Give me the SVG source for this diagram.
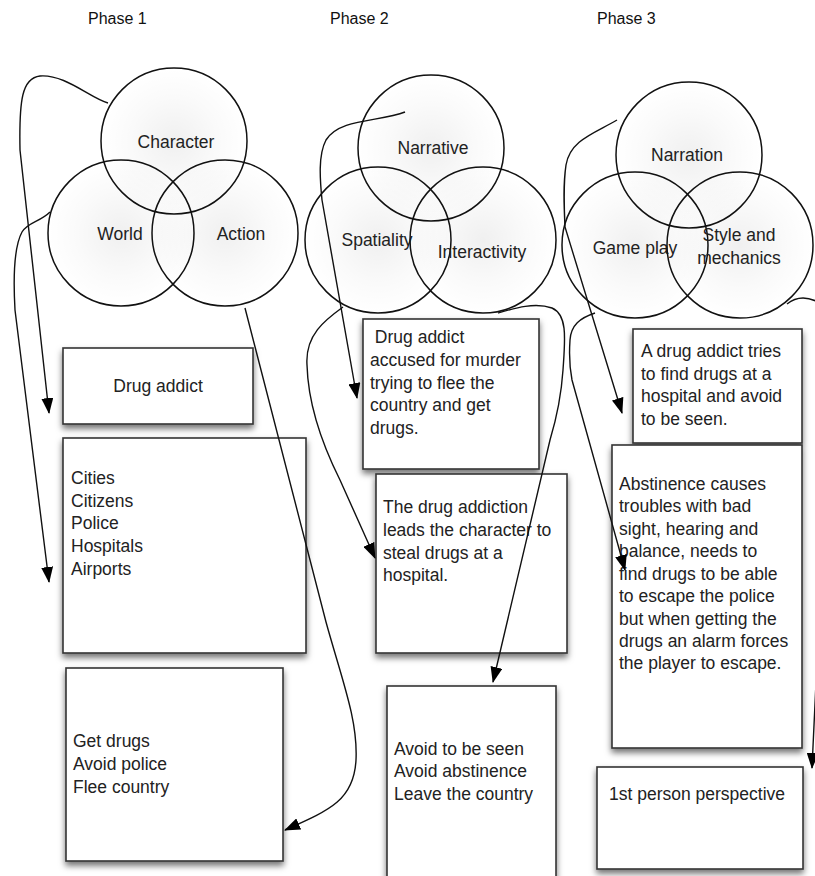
<svg xmlns="http://www.w3.org/2000/svg" width="815" height="876" viewBox="0 0 815 876">
<style>
  .title { font-family: "Liberation Sans", Arial, sans-serif; font-size: 16px; fill: #111; }
  .lbl { font-family: "Liberation Sans", Arial, sans-serif; font-size: 17.5px; fill: #222; }
  .mid { text-anchor: middle; }
  .circ { fill: url(#cg); stroke: #111; stroke-width: 1.5; }
  .box { fill: #fff; stroke: #333; stroke-width: 1.6; filter: url(#sh); }
  .conn { fill: none; stroke: #111; stroke-width: 1.4; marker-end: url(#ah); }
</style>
<defs>
  <radialGradient id="cg" cx="0.5" cy="0.5" r="0.5">
    <stop offset="0" stop-color="#000" stop-opacity="0.06"/>
    <stop offset="0.6" stop-color="#000" stop-opacity="0.02"/>
    <stop offset="1" stop-color="#000" stop-opacity="0"/>
  </radialGradient>
  <filter id="sh" x="-20%" y="-20%" width="140%" height="140%">
    <feDropShadow dx="0" dy="4" stdDeviation="3" flood-color="#000" flood-opacity="0.55"/>
  </filter>
  <marker id="ah" markerUnits="userSpaceOnUse" markerWidth="16" markerHeight="12" viewBox="0 0 16 12" refX="15" refY="6" orient="auto">
    <path d="M0,0 L16,6 L0,12 Z" fill="#000"/>
  </marker>
</defs>

<rect x="0" y="0" width="815" height="876" fill="#fff"/>

<g id="titles">
  <text class="title" x="88" y="24">Phase 1</text>
  <text class="title" x="330" y="24">Phase 2</text>
  <text class="title" x="597" y="24">Phase 3</text>
</g>

<!-- Phase 1 circles -->
<g id="character"><circle class="circ" cx="174" cy="141" r="73"/><text class="lbl mid" x="176" y="148">Character</text></g>
<g id="world"><circle class="circ" cx="121" cy="233" r="73"/><text class="lbl mid" x="120" y="240">World</text></g>
<g id="action"><circle class="circ" cx="225" cy="233" r="73"/><text class="lbl mid" x="241" y="240">Action</text></g>

<!-- Phase 2 circles -->
<g id="narrative"><circle class="circ" cx="431" cy="148" r="73"/><text class="lbl mid" x="433" y="154">Narrative</text></g>
<g id="spatiality"><circle class="circ" cx="378" cy="240" r="73"/><text class="lbl mid" x="377" y="246">Spatiality</text></g>
<g id="interactivity"><circle class="circ" cx="483" cy="240" r="73"/><text class="lbl mid" x="482" y="258">Interactivity</text></g>

<!-- Phase 3 circles -->
<g id="narration"><circle class="circ" cx="689" cy="155" r="73"/><text class="lbl mid" x="687" y="161">Narration</text></g>
<g id="gameplay"><circle class="circ" cx="635" cy="245" r="73"/><text class="lbl mid" x="635" y="254">Game play</text></g>
<g id="style"><circle class="circ" cx="740" cy="245" r="73"/><text class="lbl mid" x="739" y="241">Style and</text><text class="lbl mid" x="739" y="264">mechanics</text></g>

<!-- Phase 1 boxes -->
<g id="p1-drug"><rect class="box" x="63" y="348" width="190" height="76"/><text class="lbl mid" x="158" y="392">Drug addict</text></g>
<g id="p1-world"><rect class="box" x="63" y="438" width="243" height="215"/>
  <text class="lbl" x="71" y="484">Cities</text>
  <text class="lbl" x="71" y="507">Citizens</text>
  <text class="lbl" x="71" y="529">Police</text>
  <text class="lbl" x="71" y="552">Hospitals</text>
  <text class="lbl" x="71" y="575">Airports</text>
</g>
<g id="p1-action"><rect class="box" x="66" y="668" width="217" height="193"/>
  <text class="lbl" x="73" y="747">Get drugs</text>
  <text class="lbl" x="73" y="770">Avoid police</text>
  <text class="lbl" x="73" y="793">Flee country</text>
</g>

<!-- Phase 2 boxes -->
<g id="p2-narr"><rect class="box" x="363" y="319" width="176" height="150"/>
  <text class="lbl" x="370" y="343" xml:space="preserve"> Drug addict</text>
  <text class="lbl" x="370" y="366">accused for murder</text>
  <text class="lbl" x="370" y="389">trying to flee the</text>
  <text class="lbl" x="370" y="411">country and get</text>
  <text class="lbl" x="370" y="434">drugs.</text>
</g>
<g id="p2-spat"><rect class="box" x="376" y="474" width="191" height="179"/>
  <text class="lbl" x="383" y="513">The drug addiction</text>
  <text class="lbl" x="383" y="536">leads the character to</text>
  <text class="lbl" x="383" y="559">steal drugs at a</text>
  <text class="lbl" x="383" y="581">hospital.</text>
</g>
<g id="p2-inter"><rect class="box" x="387" y="686" width="169" height="196"/>
  <text class="lbl" x="394" y="755">Avoid to be seen</text>
  <text class="lbl" x="394" y="777">Avoid abstinence</text>
  <text class="lbl" x="394" y="800">Leave the country</text>
</g>

<!-- Phase 3 boxes -->
<g id="p3-narr"><rect class="box" x="633" y="329" width="169" height="114"/>
  <text class="lbl" x="641" y="357">A drug addict tries</text>
  <text class="lbl" x="641" y="380">to find drugs at a</text>
  <text class="lbl" x="641" y="402">hospital and avoid</text>
  <text class="lbl" x="641" y="425">to be seen.</text>
</g>
<g id="p3-game"><rect class="box" x="612" y="445" width="190" height="303"/>
  <text class="lbl" x="619" y="490">Abstinence causes</text>
  <text class="lbl" x="619" y="512">troubles with bad</text>
  <text class="lbl" x="619" y="535">sight, hearing and</text>
  <text class="lbl" x="619" y="557">balance, needs to</text>
  <text class="lbl" x="619" y="580">find drugs to be able</text>
  <text class="lbl" x="619" y="602">to escape the police</text>
  <text class="lbl" x="619" y="625">but when getting the</text>
  <text class="lbl" x="619" y="647">drugs an alarm forces</text>
  <text class="lbl" x="619" y="669">the player to escape.</text>
</g>
<g id="p3-style"><rect class="box" x="597" y="767" width="206" height="102"/>
  <text class="lbl" x="609" y="800">1st person perspective</text>
</g>

<g id="connectors">
  <path class="conn" d="M108,103 C 90,98 65,74 40,76 C 22,78 19,100 20,150 L 49,413"/>
  <path class="conn" d="M50,212 C 40,222 28,222 22,232 C 15,245 13,275 15,310 L 49,582"/>
  <path class="conn" d="M245,308 L 326,622 C 342,680 358,720 356,760 C 354,800 330,810 285,830"/>
  <path class="conn" d="M405,112 C 380,122 340,118 326,140 C 318,155 320,180 322,200 L 357,398"/>
  <path class="conn" d="M343,307 C 325,320 305,335 307,365 C 308,400 320,440 340,480 L 375,558"/>
  <path class="conn" d="M498,313 C 515,308 535,302 552,308 C 568,315 565,340 563,370 C 561,400 556,420 550,440 L 493,682"/>
  <path class="conn" d="M617,120 C 595,133 570,140 566,165 C 563,185 564,205 565,227 L 622,413"/>
  <path class="conn" d="M595,313 C 580,318 571,325 570,340 C 569,355 569,365 572,380 L 625,570"/>
  <path class="conn" d="M787,304 C 797,296 808,297 818,302 C 840,320 822,560 818,640 L 812,768"/>
</g>
</svg>
